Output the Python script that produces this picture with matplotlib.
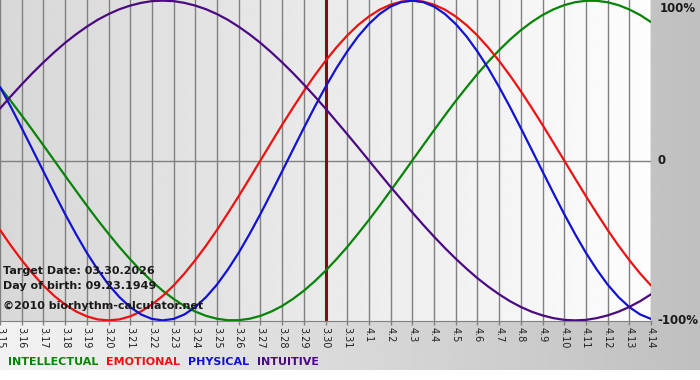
import matplotlib
matplotlib.use("Agg")
import matplotlib.pyplot as plt
import numpy as np

# day labels on the x axis (3.15 .. 4.14)
day_labels = ["3.15", "3.16", "3.17", "3.18", "3.19", "3.20", "3.21", "3.22", "3.23",
              "3.24", "3.25", "3.26", "3.27", "3.28", "3.29", "3.30", "3.31",
              "4.1", "4.2", "4.3", "4.4", "4.5", "4.6", "4.7", "4.8", "4.9",
              "4.10", "4.11", "4.12", "4.13", "4.14"]
target_label = "3.30"

# curve values read every half day, -1 .. 1
physical = [0.460, 0.335, 0.203, 0.068, -0.068, -0.203, -0.335, -0.460, -0.577, -0.682,
            -0.776, -0.854, -0.917, -0.963, -0.991, -1.0, -0.991, -0.963, -0.917, -0.854,
            -0.776, -0.682, -0.577, -0.460, -0.335, -0.203, -0.068, 0.068, 0.203, 0.335,
            0.460, 0.577, 0.682, 0.776, 0.854, 0.917, 0.963, 0.991, 1.0, 0.991,
            0.963, 0.917, 0.854, 0.776, 0.682, 0.577, 0.460, 0.335, 0.203, 0.068,
            -0.068, -0.203, -0.335, -0.460, -0.577, -0.682, -0.776, -0.854, -0.917, -0.963,
            -0.991]
emotional = [-0.434, -0.532, -0.623, -0.707, -0.782, -0.847, -0.901, -0.944, -0.975, -0.994,
             -1.0, -0.994, -0.975, -0.944, -0.901, -0.847, -0.782, -0.707, -0.623, -0.532,
             -0.434, -0.330, -0.223, -0.112, 0.0, 0.112, 0.223, 0.330, 0.434, 0.532,
             0.623, 0.707, 0.782, 0.847, 0.901, 0.944, 0.975, 0.994, 1.0, 0.994,
             0.975, 0.944, 0.901, 0.847, 0.782, 0.707, 0.623, 0.532, 0.434, 0.330,
             0.223, 0.112, 0.0, -0.112, -0.223, -0.330, -0.434, -0.532, -0.623, -0.707,
             -0.782]
intellectual = [0.458, 0.372, 0.282, 0.189, 0.095, 0.0, -0.095, -0.189, -0.282, -0.372,
                -0.458, -0.541, -0.618, -0.690, -0.756, -0.815, -0.866, -0.910, -0.945, -0.972,
                -0.990, -0.999, -0.999, -0.990, -0.972, -0.945, -0.910, -0.866, -0.815, -0.756,
                -0.690, -0.618, -0.541, -0.458, -0.372, -0.282, -0.189, -0.095, 0.0, 0.095,
                0.189, 0.282, 0.372, 0.458, 0.541, 0.618, 0.690, 0.756, 0.815, 0.866,
                0.910, 0.945, 0.972, 0.990, 0.999, 0.999, 0.990, 0.972, 0.945, 0.910,
                0.866]
intuitive = [0.325, 0.402, 0.476, 0.547, 0.614, 0.677, 0.736, 0.789, 0.837, 0.880,
             0.916, 0.946, 0.969, 0.986, 0.997, 1.0, 0.997, 0.986, 0.969, 0.946,
             0.916, 0.880, 0.837, 0.789, 0.736, 0.677, 0.614, 0.547, 0.476, 0.402,
             0.325, 0.245, 0.165, 0.083, 0.0, -0.083, -0.165, -0.245, -0.325, -0.402,
             -0.476, -0.547, -0.614, -0.677, -0.736, -0.789, -0.837, -0.880, -0.916, -0.946,
             -0.969, -0.986, -0.997, -1.0, -0.997, -0.986, -0.969, -0.946, -0.916, -0.880,
             -0.837]

series_names = ["INTELLECTUAL", "EMOTIONAL", "PHYSICAL", "INTUITIVE"]
series_colors = ["#078407", "#ee1111", "#1212d2", "#4b0a82"]

target_text = "Target Date: 03.30.2026"
birth_text = "Day of birth: 09.23.1949"
copy_text = "\u00a92010 biorhythm-calculator.net"

days = np.arange(len(day_labels))
half_days = np.arange(len(physical)) * 0.5

fig = plt.figure(figsize=(7, 3.8), dpi=100)

# figure background: light grey -> darker grey, white strip at the bottom
bg = fig.add_axes([0, 10 / 380, 1, 1 - 10 / 380], zorder=-10)
grad = np.linspace(0.95, 0.75, 256).reshape(1, -1)
bg.imshow(grad, cmap="gray", vmin=0, vmax=1, aspect="auto", extent=[0, 1, 0, 1])
bg.set_axis_off()

ax = fig.add_axes([0, 59 / 380, 651 / 700, 321 / 380])
pgrad = np.linspace(0.845, 0.99, 256).reshape(1, -1)
ax.imshow(pgrad, cmap="gray", vmin=0, vmax=1, aspect="auto",
          extent=[0, 1, 0, 1], transform=ax.transAxes, zorder=0)

ax.set_xlim(days[0], days[-1])
ax.set_ylim(-1.004, 1.004)

for d in days:
    ax.axvline(d, color="#808080", lw=1, zorder=1)
ax.axhline(0, color="#808080", lw=1, zorder=1)

ti = day_labels.index(target_label)
ax.axvline(days[ti], color="#7a1212", lw=2.2, zorder=2)

for vals, c in zip([intellectual, emotional, physical, intuitive], series_colors):
    ax.plot(half_days, vals, color=c, lw=1.6, zorder=3, solid_capstyle="round")

for s in ax.spines.values():
    s.set_visible(False)
ax.spines["bottom"].set_visible(True)
ax.spines["bottom"].set_color("#808080")

ax.set_xticks(days)
ax.set_xticklabels(day_labels, rotation=270, fontsize=7, color="#202020")
ax.tick_params(axis="x", length=3, width=1, color="#808080", pad=1)
ax.set_yticks([])

tkw = dict(transform=ax.transAxes, fontsize=8, fontweight="bold", color="#1a1a1a",
           ha="left", va="center", zorder=5)
ax.text(3 / 651, (321 - 271) / 321, target_text, **tkw)
ax.text(3 / 651, (321 - 286) / 321, birth_text, **tkw)
ax.text(3 / 651, (321 - 306) / 321, copy_text, **tkw)

# right side percentage labels
rkw = dict(fontsize=8.5, fontweight="bold", color="#1a1a1a", ha="left", va="center")
fig.text(660 / 700, 1 - 8 / 380, "100%", **rkw)
fig.text(658 / 700, 1 - 161 / 380, "0", **rkw)
fig.text(657 / 700, 1 - 321 / 380, "-100%", **rkw)

# legend row
x = 8
for name, c in zip(series_names, series_colors):
    t = fig.text(x / 700, 1 - 362 / 380, name, color=c, fontsize=8,
                 fontweight="bold", ha="left", va="center")
    fig.canvas.draw()
    w = t.get_window_extent().width
    x += w + 8

fig.savefig("out.png", dpi=100)
